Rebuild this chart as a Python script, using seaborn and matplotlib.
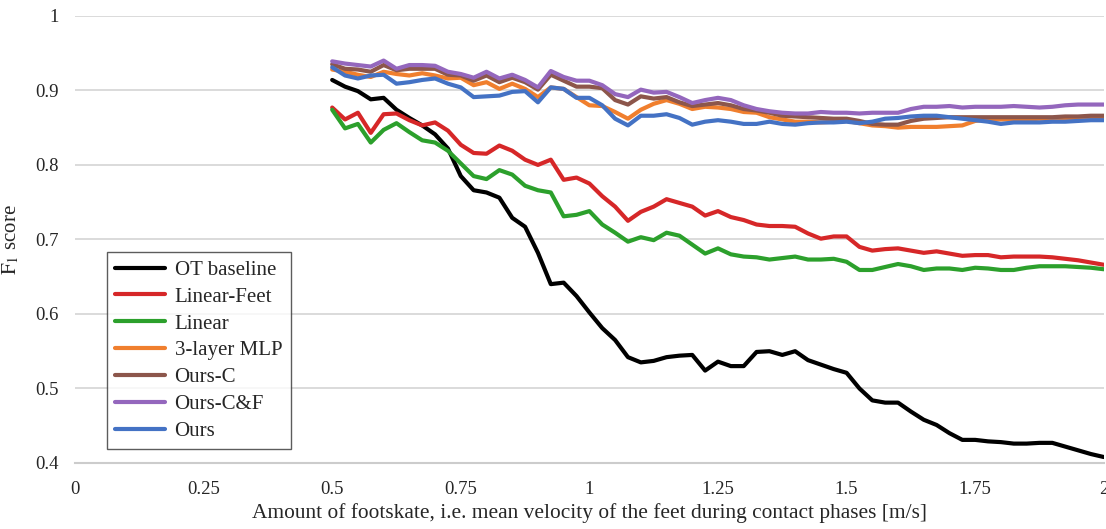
import numpy as np
import pandas as pd
import matplotlib
matplotlib.use("Agg")
import matplotlib.pyplot as plt
import seaborn as sns

# footskate levels (m/s), one sample every 0.025 from 0.5 to 2
footskate = np.round(np.arange(0.5, 2.0001, 0.025), 3)

ot_baseline = [0.914, 0.905, 0.899, 0.888, 0.890, 0.874, 0.863, 0.853, 0.841, 0.822,
               0.785, 0.766, 0.763, 0.756, 0.729, 0.717, 0.682, 0.640, 0.642, 0.624,
               0.602, 0.581, 0.565, 0.542, 0.535, 0.537, 0.542, 0.544, 0.545, 0.524,
               0.536, 0.530, 0.530, 0.549, 0.550, 0.545, 0.550, 0.538, 0.532, 0.526,
               0.521, 0.500, 0.484, 0.481, 0.481, 0.469, 0.458, 0.451, 0.440, 0.431,
               0.431, 0.429, 0.428, 0.426, 0.426, 0.427, 0.427, 0.422, 0.417, 0.412,
               0.408]
linear_feet = [0.877, 0.861, 0.870, 0.843, 0.868, 0.869, 0.860, 0.853, 0.857, 0.846,
               0.827, 0.816, 0.815, 0.826, 0.819, 0.807, 0.800, 0.807, 0.780, 0.783,
               0.775, 0.758, 0.744, 0.725, 0.737, 0.744, 0.754, 0.749, 0.744, 0.732,
               0.738, 0.730, 0.726, 0.720, 0.718, 0.718, 0.717, 0.708, 0.701, 0.704,
               0.704, 0.690, 0.685, 0.687, 0.688, 0.685, 0.682, 0.684, 0.681, 0.678,
               0.679, 0.679, 0.676, 0.677, 0.677, 0.677, 0.676, 0.674, 0.672, 0.669,
               0.666]
linear = [0.874, 0.849, 0.855, 0.830, 0.847, 0.856, 0.844, 0.833, 0.830, 0.819,
          0.802, 0.785, 0.781, 0.793, 0.787, 0.772, 0.766, 0.763, 0.731, 0.733,
          0.738, 0.720, 0.709, 0.697, 0.703, 0.699, 0.709, 0.705, 0.693, 0.681,
          0.688, 0.680, 0.677, 0.676, 0.673, 0.675, 0.677, 0.673, 0.673, 0.674,
          0.670, 0.659, 0.659, 0.663, 0.667, 0.664, 0.659, 0.661, 0.661, 0.659,
          0.662, 0.661, 0.659, 0.659, 0.662, 0.664, 0.664, 0.664, 0.663, 0.662,
          0.660]
mlp3 = [0.928, 0.925, 0.921, 0.918, 0.925, 0.922, 0.920, 0.923, 0.920, 0.916,
        0.917, 0.907, 0.911, 0.902, 0.909, 0.902, 0.891, 0.904, 0.902, 0.891,
        0.880, 0.879, 0.871, 0.862, 0.874, 0.882, 0.887, 0.882, 0.875, 0.878,
        0.877, 0.875, 0.871, 0.870, 0.864, 0.861, 0.858, 0.858, 0.857, 0.858,
        0.859, 0.856, 0.853, 0.852, 0.850, 0.851, 0.851, 0.851, 0.852, 0.853,
        0.859, 0.861, 0.861, 0.861, 0.861, 0.862, 0.862, 0.863, 0.863, 0.864,
        0.864]
ours_c = [0.935, 0.929, 0.928, 0.925, 0.934, 0.927, 0.929, 0.929, 0.929, 0.921,
          0.920, 0.913, 0.920, 0.911, 0.917, 0.911, 0.901, 0.921, 0.913, 0.905,
          0.905, 0.903, 0.887, 0.881, 0.892, 0.889, 0.891, 0.884, 0.879, 0.881,
          0.883, 0.880, 0.875, 0.873, 0.870, 0.866, 0.865, 0.864, 0.863, 0.862,
          0.862, 0.859, 0.855, 0.854, 0.854, 0.859, 0.862, 0.863, 0.864, 0.864,
          0.864, 0.864, 0.864, 0.864, 0.864, 0.864, 0.864, 0.865, 0.865, 0.866,
          0.866]
ours_cf = [0.939, 0.936, 0.934, 0.932, 0.940, 0.929, 0.934, 0.934, 0.933, 0.925,
           0.922, 0.917, 0.925, 0.916, 0.921, 0.914, 0.904, 0.926, 0.918, 0.913,
           0.913, 0.907, 0.895, 0.891, 0.901, 0.897, 0.898, 0.891, 0.883, 0.887,
           0.890, 0.887, 0.880, 0.875, 0.872, 0.870, 0.869, 0.869, 0.871, 0.870,
           0.870, 0.869, 0.870, 0.870, 0.870, 0.875, 0.878, 0.878, 0.879, 0.877,
           0.878, 0.878, 0.878, 0.879, 0.878, 0.877, 0.878, 0.880, 0.881, 0.881,
           0.881]
ours = [0.931, 0.920, 0.916, 0.920, 0.921, 0.909, 0.911, 0.914, 0.916, 0.909,
        0.904, 0.891, 0.892, 0.893, 0.898, 0.899, 0.884, 0.904, 0.902, 0.890,
        0.890, 0.880, 0.862, 0.853, 0.866, 0.866, 0.868, 0.863, 0.854, 0.858,
        0.860, 0.858, 0.855, 0.855, 0.858, 0.855, 0.854, 0.856, 0.857, 0.857,
        0.858, 0.856, 0.858, 0.862, 0.863, 0.865, 0.866, 0.866, 0.864, 0.862,
        0.860, 0.858, 0.855, 0.857, 0.857, 0.857, 0.858, 0.858, 0.859, 0.860,
        0.860]

methods = ["OT baseline", "Linear-Feet", "Linear", "3-layer MLP", "Ours-C", "Ours-C&F", "Ours"]
colors = ["#000000", "#d62728", "#2ca02c", "#f07f2e", "#8c564b", "#9467bd", "#4472c4"]
series = [ot_baseline, linear_feet, linear, mlp3, ours_c, ours_cf, ours]

x_ticks = [0, 0.25, 0.5, 0.75, 1, 1.25, 1.5, 1.75, 2]
x_tick_labels = ["0", "0.25", "0.5", "0.75", "1", "1.25", "1.5", "1.75", "2"]
y_ticks = [0.4, 0.5, 0.6, 0.7, 0.8, 0.9, 1.0]
y_tick_labels = ["0.4", "0.5", "0.6", "0.7", "0.8", "0.9", "1"]

# long-form table for seaborn
df = pd.concat([pd.DataFrame({"footskate": footskate, "F1": vals, "method": name})
                for name, vals in zip(methods, series)], ignore_index=True)

sns.set_style("white")
plt.rcParams["font.family"] = ["Liberation Serif", "DejaVu Serif"]
plt.rcParams["mathtext.fontset"] = "stix"

fig = plt.figure(figsize=(11.06, 5.29), dpi=100)
ax = fig.add_axes([0.0678, 0.1248, 0.9302, 0.8452])

sns.lineplot(data=df, x="footskate", y="F1", hue="method", hue_order=methods,
             palette=colors, linewidth=3, ax=ax, legend=True)

ax.set_xlim(0, 2)
ax.set_ylim(0.4, 1.0)
ax.set_xticks(x_ticks)
ax.set_xticklabels(x_tick_labels)
ax.set_yticks(y_ticks)
ax.set_yticklabels(y_tick_labels)

ax.yaxis.grid(True, color="#d4d4d4", linewidth=1.2)
ax.xaxis.grid(False)
ax.set_axisbelow(True)
for s in ["top", "right", "left"]:
    ax.spines[s].set_visible(False)
ax.spines["bottom"].set_color("#cccccc")
ax.spines["bottom"].set_linewidth(1.5)

ax.tick_params(axis="x", direction="inout", length=10, width=1, color="#999999",
               labelsize=13.5, pad=8)
ax.tick_params(axis="y", length=0, labelsize=13.5, pad=12)

ax.set_xlabel("Amount of footskate, i.e. mean velocity of the feet during contact phases [m/s]",
              fontsize=15.4, labelpad=4)
ax.set_ylabel(r"$\mathrm{F}_1$ score", fontsize=15, labelpad=10)

leg = ax.legend(loc="upper left", bbox_to_anchor=(0.031, 0.472), borderaxespad=0,
                fontsize=15, frameon=True, fancybox=False, handlelength=2.4,
                labelspacing=0.35, borderpad=0.4, handletextpad=0.45)
leg.get_frame().set_edgecolor("#333333")
leg.get_frame().set_linewidth(1.0)
for line in leg.get_lines():
    line.set_linewidth(3)

fig.savefig("out.png", dpi=100)
